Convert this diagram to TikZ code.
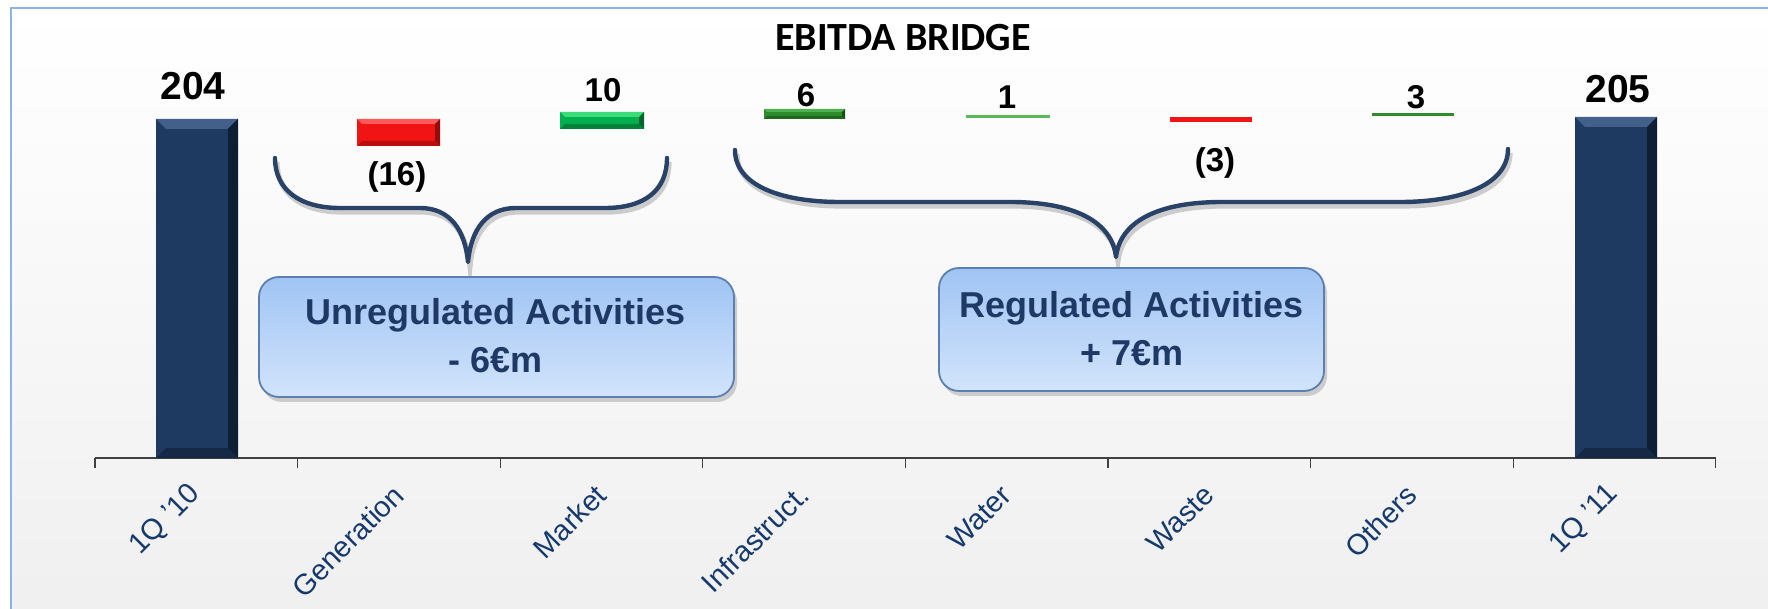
\documentclass[tikz,border=0pt]{standalone}
\usepackage{fontspec}
\setmainfont{Liberation Sans}
\newfontfamily\titlefont{Carlito}
\usetikzlibrary{shadows}
\definecolor{navy}{RGB}{31,58,96}
\definecolor{navylight}{RGB}{66,96,138}
\definecolor{navydark}{RGB}{14,30,52}
\definecolor{redmain}{RGB}{240,20,20}
\definecolor{redlight}{RGB}{255,90,90}
\definecolor{reddark}{RGB}{150,10,10}
\definecolor{grnmain}{RGB}{0,176,80}
\definecolor{grnlight}{RGB}{60,220,120}
\definecolor{grndark}{RGB}{0,100,45}
\definecolor{dgrnmain}{RGB}{46,140,46}
\definecolor{dgrnlight}{RGB}{80,175,80}
\definecolor{dgrndark}{RGB}{20,80,20}
\definecolor{lgrn}{RGB}{90,185,90}
\definecolor{bracecol}{RGB}{40,66,104}
\definecolor{boxtop}{RGB}{160,196,243}
\definecolor{boxbot}{RGB}{210,228,251}
\definecolor{boxborder}{RGB}{92,127,178}
\definecolor{boxtext}{RGB}{31,57,102}
\definecolor{labcol}{RGB}{22,58,108}
\definecolor{framecol}{RGB}{141,179,226}
\newcommand{\bbar}[8]{%
  \fill[#6] (#1,#2) rectangle (#3,#4);
  \fill[#7] (#1,#2) -- (#3,#2) -- ({#3-#5},{#2+#5}) -- ({#1+#5},{#2+#5}) -- cycle;
  \fill[#8] (#3,#2) -- (#3,#4) -- ({#3-#5},{#4-#5}) -- ({#3-#5},{#2+#5}) -- cycle;
  \fill[#8!60!#6] (#1,#4) -- (#3,#4) -- ({#3-#5},{#4-#5}) -- ({#1+#5},{#4-#5}) -- cycle;
}
\tikzset{
  bigval/.style={font=\bfseries\fontsize{19.5}{21}\selectfont, inner sep=0pt},
  smallval/.style={font=\bfseries\fontsize{16.5}{18}\selectfont, inner sep=0pt},
  catlab/.style={font=\fontsize{14.5}{16}\selectfont, text=labcol, rotate=45, anchor=east, inner sep=0pt},
  bracestyle/.style={draw=bracecol, line width=2.2pt, line cap=round, line join=round,
     preaction={draw=black, opacity=0.18, line width=2.6pt, transform canvas={shift={(1pt,-2pt)}}}},
  actbox/.style={draw=boxborder, line width=0.9pt, rounded corners=10pt, top color=boxtop, bottom color=boxbot,
     drop shadow={opacity=0.35, shadow xshift=1.5pt, shadow yshift=-2.5pt}},
  acttext/.style={font=\bfseries\fontsize{18}{24}\selectfont, text=boxtext, align=center, inner sep=0pt}
}
\begin{document}
\begin{tikzpicture}[x=0.5pt,y=-0.5pt]
\useasboundingbox (0,0) rectangle (1768,609);
\fill[white] (0,0) rectangle (1768,609);
\shade[top color=white, middle color=white, bottom color=black!6] (11,8) rectangle (1768,609);
\draw[framecol, line width=1pt] (11,640) -- (11,8) -- (1800,8);
% title
\node (title) at (903,38) {\titlefont\bfseries\fontsize{20}{22}\selectfont EBITDA BRIDGE};
% axis
\draw[black!75, line width=0.8pt] (95,458) -- (1716,458);
\foreach \i in {0,...,8} \draw[black!75, line width=0.6pt] ({95+202.6*\i},458) -- ++(0,10);
% totals
\bbar{156}{119}{238}{458}{10}{navy}{navylight}{navydark}
\bbar{1575}{117}{1657}{458}{10}{navy}{navylight}{navydark}
% deltas
\bbar{357}{119}{440}{146}{5}{redmain}{redlight}{reddark}
\bbar{560}{112}{644}{129}{5}{grnmain}{grnlight}{grndark}
\bbar{764}{109}{845}{119}{3}{dgrnmain}{dgrnlight}{dgrndark}
\fill[lgrn] (966,115.5) rectangle (1050,118);
\fill[redmain] (1170,117) rectangle (1252,122);
\fill[dgrnmain] (1372,113) rectangle (1454,116.5);
% value labels
\node[bigval] (v204) at (193,86) {204};
\node[bigval] (v205) at (1618,89) {205};
\node[smallval] (vgen) at (397,177) {(16)};
\node[smallval] (vmkt) at (603,90) {10};
\node[smallval] (vinf) at (806,95) {6};
\node[smallval] (vwat) at (1007,97) {1};
\node[smallval] (vwas) at (1215,163) {(3)};
\node[smallval] (voth) at (1416,97) {3};
% braces
\draw[bracestyle]
  (275,158) .. controls (275,190) and (300,208) .. (340,208) -- (420,208)
  .. controls (450,208) and (465,230) .. (468,262)
  .. controls (471,230) and (486,208) .. (516,208) -- (605,208)
  .. controls (645,208) and (667,190) .. (667,158);
\draw[bracestyle]
  (735,150) .. controls (735,185) and (780,202) .. (840,202) -- (1010,202)
  .. controls (1075,202) and (1112,222) .. (1116,257)
  .. controls (1120,222) and (1157,202) .. (1222,202) -- (1400,202)
  .. controls (1460,202) and (1508,185) .. (1508,149);
% boxes
\path[actbox] (259,277) rectangle (734,397);
\node[acttext] (unreg) at (496,336) {Unregulated Activities\\- 6€m};
\path[actbox] (939,268) rectangle (1324,391);
\node[acttext] (reg) at (1132,329) {Regulated Activities\\+ 7€m};
% category labels
\foreach \lab [count=\k from 0] in {1Q '10,Generation,Market,Infrastruct.,Water,Waste,Others,1Q '11}
  \node[catlab] (cat\k) at ({196+202.6*\k},490) {\lab};
\end{tikzpicture}
\end{document}
